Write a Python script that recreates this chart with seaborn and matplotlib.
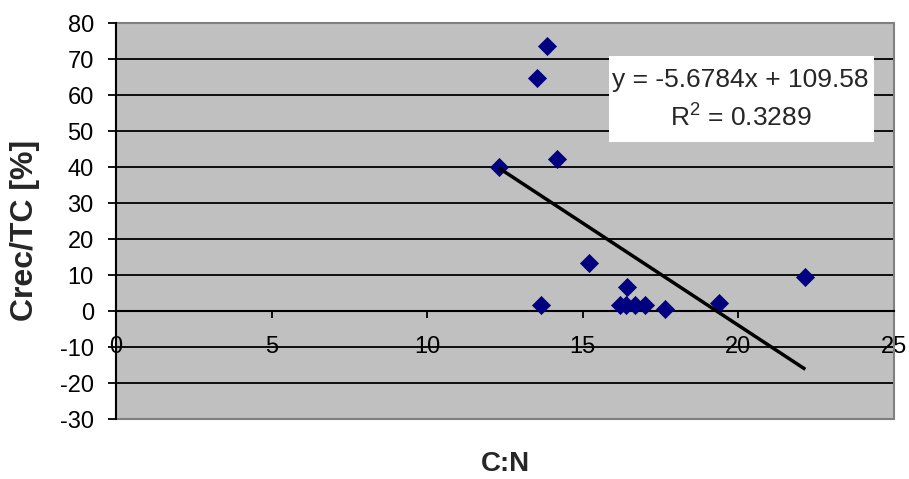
import numpy as np
import pandas as pd
import matplotlib
matplotlib.use("Agg")
import matplotlib.pyplot as plt
import seaborn as sns
from matplotlib.patches import Rectangle

# C:N ratio against recovered carbon share
cn_ratio = [12.3, 13.53, 13.65, 13.85, 14.16, 15.19, 16.2, 16.39, 16.41, 16.67, 17.0, 17.64, 19.38, 22.15]
crec_tc = [40.0, 64.8, 1.7, 73.7, 42.1, 13.4, 1.7, 1.7, 6.7, 1.7, 1.7, 0.5, 2.2, 9.5]

# linear trend line as reported
trend_slope = -5.6784
trend_intercept = 109.58
r_squared = 0.3289

x_ticks = [0, 5, 10, 15, 20, 25]
y_ticks = [-30, -20, -10, 0, 10, 20, 30, 40, 50, 60, 70, 80]

df = pd.DataFrame({"C:N": cn_ratio, "Crec/TC": crec_tc})

sns.set_style("white")
plt.rcParams["font.family"] = ["Liberation Sans", "DejaVu Sans"]
plt.rcParams["mathtext.fontset"] = "custom"
plt.rcParams["mathtext.rm"] = "Liberation Sans"
plt.rcParams["mathtext.it"] = "Liberation Sans"
plt.rcParams["axes.unicode_minus"] = False

W, H = 909, 479
fig = plt.figure(figsize=(W / 100, H / 100), dpi=100)
fig.patch.set_facecolor("white")
ax = fig.add_axes([116 / W, 1 - 419 / H, 778 / W, 396 / H])
ax.set_facecolor("#C0C0C0")
ax.set_xlim(x_ticks[0], x_ticks[-1])
ax.set_ylim(y_ticks[0], y_ticks[-1])

# horizontal gridlines inside the plot area
for yv in y_ticks[1:-1]:
    ax.axhline(yv, color="black", lw=1.3, zorder=1)

sns.scatterplot(data=df, x="C:N", y="Crec/TC", marker="D", color="#000080",
                edgecolor="#000080", linewidth=0.5, s=85, ax=ax, zorder=4)

xs = np.array([min(cn_ratio), max(cn_ratio)])
ax.plot(xs, trend_intercept + trend_slope * xs, color="black", lw=2.5,
        zorder=5, solid_capstyle="butt")

# frame: grey outline, black value axis, category axis crossing at zero
ax.add_patch(Rectangle((0, 0), 1, 1, transform=ax.transAxes, fill=False,
                       edgecolor="#808080", lw=1.5, zorder=2, clip_on=False))
for side in ["top", "right"]:
    ax.spines[side].set_visible(False)
ax.spines["left"].set_color("black")
ax.spines["left"].set_linewidth(1.5)
ax.spines["left"].set_zorder(3)
ax.spines["bottom"].set_position(("data", 0))
ax.spines["bottom"].set_color("black")
ax.spines["bottom"].set_linewidth(1.5)

ax.set_xticks(x_ticks)
ax.set_yticks(y_ticks)
ax.tick_params(axis="y", direction="out", length=6, width=1.3, pad=10,
               labelsize=17, colors="black", left=True)
ax.tick_params(axis="x", direction="out", length=5, width=1.3, pad=13,
               labelsize=17, colors="black", bottom=True)

# equation box
ax.add_patch(Rectangle((0.634, 0.699), 0.34, 0.218, transform=ax.transAxes,
                       facecolor="white", edgecolor="none", zorder=6))
ax.text(0.803, 0.856, f"y = {trend_slope:.4f}x + {trend_intercept:.2f}",
        transform=ax.transAxes, ha="center", va="center", fontsize=19, zorder=7)
ax.text(0.803, 0.760, r"R$^{2}$" + f" = {r_squared:.4f}",
        transform=ax.transAxes, ha="center", va="center", fontsize=19, zorder=7)

ax.set_xlabel("C:N", fontsize=20, fontweight="bold")
ax.set_ylabel("Crec/TC [%]", fontsize=23, fontweight="bold")
ax.xaxis.set_label_coords(0.5, -0.132)
ax.xaxis.label.set_va("baseline")
ax.yaxis.set_label_coords(-0.117, 0.475)
ax.yaxis.label.set_va("center")

fig.savefig("out.png", dpi=100)
